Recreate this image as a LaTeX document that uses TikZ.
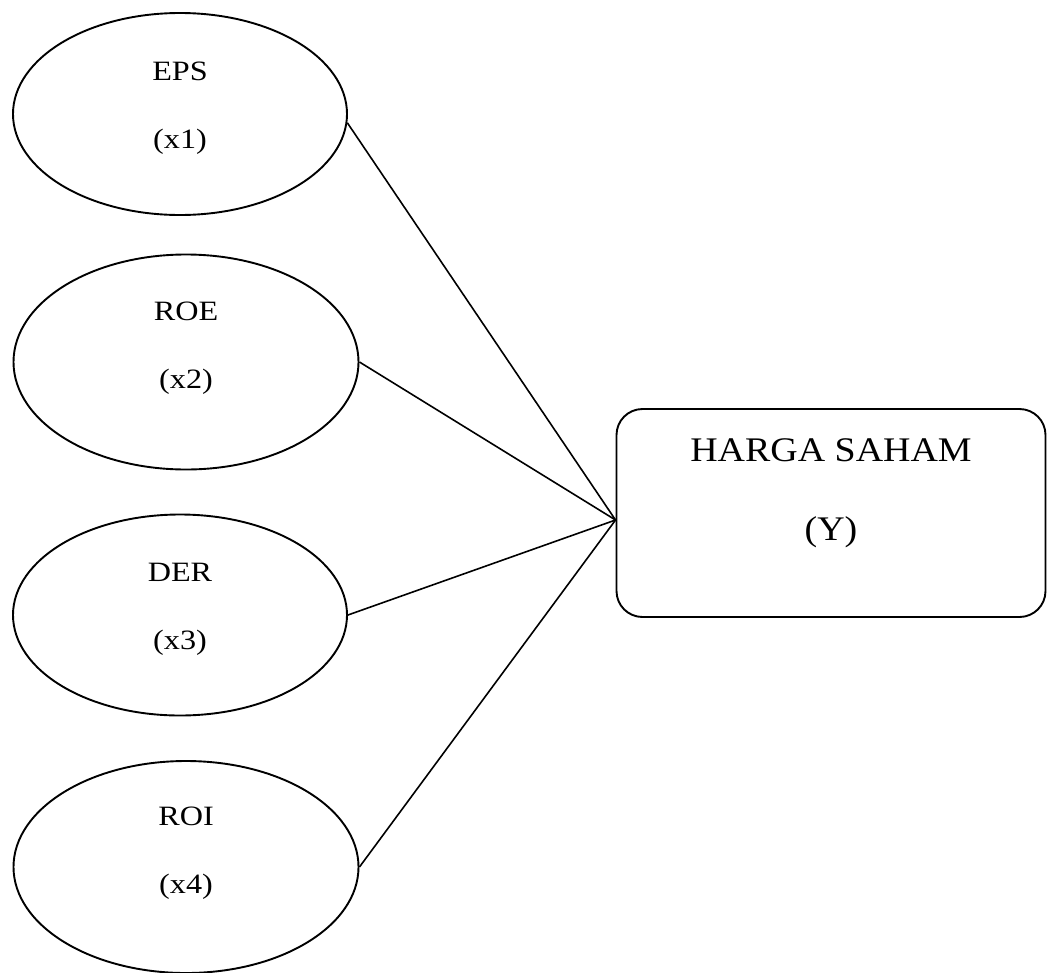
\documentclass[tikz,border=0pt]{standalone}
\usepackage{fontspec}
\setmainfont{Liberation Serif}
\usetikzlibrary{shapes.geometric, positioning}

\begin{document}
\begin{tikzpicture}[
	  x=1pt, y=-1pt,
	  indep/.style={ellipse, draw=black, line width=1.9pt, inner sep=0pt},
	  indeptext/.style={align=center, inner sep=0pt, xscale=1.15, font=\fontsize{28}{68}\selectfont},
	  dep/.style={rectangle, rounded corners=26pt, draw=black, line width=1.9pt, minimum width=429pt, minimum height=208pt, inner sep=0pt},
	  deptext/.style={align=center, inner sep=0pt, xscale=1.1, font=\fontsize{34.5}{79}\selectfont},
	  link/.style={line width=1.6pt}
	]

	\useasboundingbox (0,0) rectangle (1048,972);

	\node (eps) [indep, minimum width=334pt, minimum height=202pt] at (180,114) {};
	\node (roe) [indep, minimum width=345pt, minimum height=215pt] at (186,362) {};
	\node (der) [indep, minimum width=334pt, minimum height=201pt] at (180,615) {};
	\node (roi) [indep, minimum width=345pt, minimum height=212pt] at (186,867) {};
	\node (harga) [dep] at (831,513) {};

	\node (epstext) [indeptext] at ([yshift=6pt]eps.center) {EPS\\(x1)};
	\node (roetext) [indeptext] at ([yshift=14pt]roe.center) {ROE\\(x2)};
	\node (dertext) [indeptext] at ([yshift=6pt]der.center) {DER\\(x3)};
	\node (roitext) [indeptext] at ([yshift=14pt]roi.center) {ROI\\(x4)};
	\node (hargatext) [deptext] at ([yshift=20pt]harga.center) {HARGA SAHAM\\(Y)};

	\coordinate (hub) at ([yshift=-7pt]harga.west);

	\draw [link] (eps.-3) -- (hub);
	\draw [link] (roe.east) -- (hub);
	\draw [link] (der.east) -- (hub);
	\draw [link] (roi.east) -- (hub);

\end{tikzpicture}
\end{document}
